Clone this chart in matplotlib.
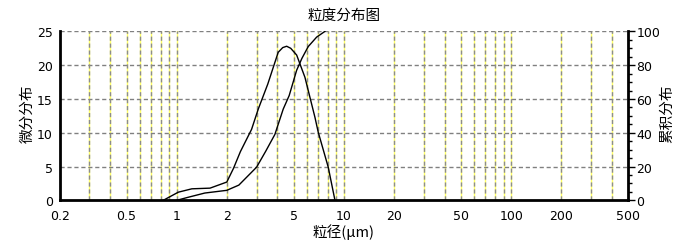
import matplotlib
matplotlib.use('Agg')
import matplotlib.pyplot as plt
from matplotlib.ticker import MultipleLocator, FixedLocator, NullLocator

plt.rcParams['font.family'] = ['DejaVu Sans', 'Noto Sans CJK SC']

# 粒径 (μm) 与微分分布 (%)
diff_size = [0.83, 1.02, 1.23, 1.58, 1.99, 2.18, 2.40, 2.80, 3.07, 3.5, 4.04, 4.3,
             4.54, 4.8, 5.21, 5.84, 6.70, 7.01, 8.05, 8.83]
diff_pct = [0, 1.2, 1.7, 1.8, 2.7, 4.7, 7.2, 10.5, 13.5, 17.2, 21.9, 22.6,
            22.8, 22.5, 21.5, 18.2, 12.3, 10.1, 4.9, 0]

# 累积分布 (%)
cum_size = [1.0, 1.17, 1.47, 1.99, 2.35, 3.00, 3.4, 3.86, 4.33, 4.7, 5.21, 5.6,
            6.11, 6.86, 7.69]
cum_pct = [0, 1.8, 4.3, 5.9, 9.0, 19.6, 29, 39, 54, 62, 77, 84, 91, 96.6, 100]

x_ticks = [0.2, 0.5, 1, 2, 5, 10, 20, 50, 100, 200, 500]
x_grid = [0.3, 0.4, 0.5, 0.6, 0.7, 0.8, 0.9, 1, 2, 3, 4, 5, 6, 7, 8, 9, 10,
          20, 30, 40, 50, 60, 70, 80, 90, 100, 200, 300, 400]
y_ticks = [0, 5, 10, 15, 20, 25]
y2_ticks = [0, 20, 40, 60, 80, 100]

fig = plt.figure(figsize=(6.95, 2.51), dpi=100)
ax = fig.add_axes([0.0863, 0.198, 0.8173, 0.673])

# 竖直网格: 黄色底线 + 灰色虚线
for v in x_grid:
    ax.axvline(v, color='#ffff66', lw=1.0, zorder=1)
    ax.axvline(v, color='#8c8c8c', ls=(0, (3, 2)), lw=1.0, zorder=1.5)
for v in y_ticks[1:]:
    ax.axhline(v, color='#808080', ls=(0, (3, 2)), lw=1.0, zorder=1)

ax.plot(diff_size, diff_pct, color='black', lw=1.0, zorder=3)

ax.set_xscale('log')
ax.set_xlim(0.2, 500)
ax.set_ylim(0, 25)
ax.xaxis.set_major_locator(FixedLocator(x_ticks))
ax.xaxis.set_minor_locator(NullLocator())
ax.set_xticklabels([str(t) for t in x_ticks])
ax.set_yticks(y_ticks)
ax.tick_params(axis='y', length=0, labelsize=9, pad=5)
ax.tick_params(axis='x', length=0, labelsize=9, pad=6)

ax.spines['top'].set_visible(False)
for s in ['left', 'bottom']:
    ax.spines[s].set_linewidth(2)

ax2 = ax.twinx()
ax2.plot(cum_size, cum_pct, color='black', lw=1.0, zorder=3)
ax2.set_ylim(0, 100)
ax2.set_yticks(y2_ticks)
ax2.yaxis.set_minor_locator(MultipleLocator(5))
ax2.tick_params(axis='y', which='major', length=5, width=1, labelsize=9, pad=1)
ax2.tick_params(axis='y', which='minor', length=3, width=1)
ax2.spines['top'].set_visible(False)
ax2.spines['left'].set_visible(False)
ax2.spines['bottom'].set_visible(False)
ax2.spines['right'].set_linewidth(2)

ax.set_title('粒度分布图', fontsize=10.5, pad=9, family=['Noto Sans CJK SC'])
ax.set_xlabel('粒径(μm)', fontsize=10.5, labelpad=1, family=['Noto Sans CJK SC', 'DejaVu Sans'])
fig.text(0.039, 0.545, '微分分布', rotation=90, ha='center', va='center',
         fontsize=10.5, family=['Noto Sans CJK SC'])
fig.text(0.960, 0.545, '累积分布', rotation=90, ha='center', va='center',
         fontsize=10.5, family=['Noto Sans CJK SC'])

fig.savefig('out.png', dpi=100)
